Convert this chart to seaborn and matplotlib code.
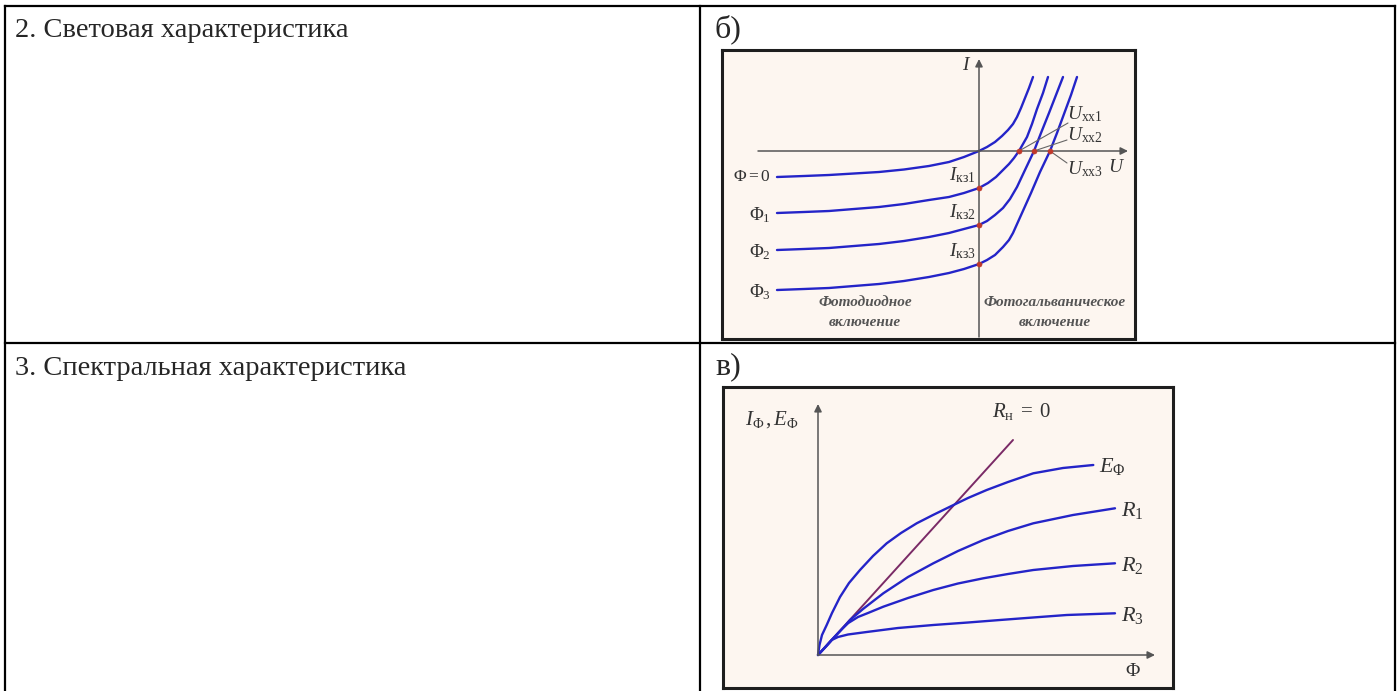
import matplotlib
matplotlib.use("Agg")
import matplotlib.pyplot as plt
from matplotlib.lines import Line2D
import seaborn as sns

# ---------------- data ----------------
# Diagram б: I-U curves for different light fluxes (arbitrary units)
phi0_u = [-202, -175, -150, -125, -100, -75, -50, -30, -15, 0, 8, 16, 23, 29, 34, 38, 42, 46, 50, 54]
phi0_i = [-26, -25, -24, -22.5, -21, -18.5, -15, -11, -6, 0, 4, 9, 15, 21, 27, 34, 43, 53, 63, 74]
phi1_u = [-202, -175, -150, -125, -100, -75, -50, -30, -15, 0, 9, 17, 24, 30, 35, 40, 44, 48, 53, 58, 64, 69]
phi1_i = [-62, -61, -60, -58, -56, -53, -49, -46, -42, -37, -32, -26, -19, -13, -7, 0, 7, 14, 27, 42, 58, 74]
phi2_u = [-202, -175, -150, -125, -100, -75, -50, -30, -15, 0, 8, 16, 24, 31, 38, 46, 55, 62, 70, 77, 84]
phi2_i = [-99, -98, -97, -95, -93, -90, -86, -82, -78, -74, -70, -64, -57, -48, -36, -19, 0, 18, 38, 56, 74]
phi3_u = [-202, -175, -150, -125, -100, -75, -50, -30, -15, 0, 8, 16, 24, 30, 34, 43, 52, 61, 71, 78, 85, 92, 98]
phi3_i = [-139, -138, -137, -135, -133, -130, -126, -122, -118, -113, -109, -104, -96, -89, -82, -62, -42, -21, 0, 18, 37, 56, 74]
curve_labels_b = [r"$\Phi = 0$", r"$\Phi_1$", r"$\Phi_2$", r"$\Phi_3$"]
isc_values = [-37, -74, -113]          # short-circuit currents
isc_labels = [r"$I_{\mathrm{кз1}}$", r"$I_{\mathrm{кз2}}$", r"$I_{\mathrm{кз3}}$"]
uoc_values = [40, 55, 71]              # open-circuit voltages
uoc_labels = [r"$U_{\mathrm{xx1}}$", r"$U_{\mathrm{xx2}}$", r"$U_{\mathrm{xx3}}$"]

# Diagram в: light characteristics
rn0_f = [0, 195]
rn0_i = [0, 215]
ef_f = [0, 1.5, 4, 8.7, 14, 22, 31, 42, 55, 68.7, 83, 98.7, 115, 132, 150, 168.7, 190, 215.3, 245, 275.3]
ef_i = [0, 10, 20, 30, 42, 58, 72, 85, 99, 111.7, 122, 131.7, 140, 148.3, 157, 165, 173, 181.7, 187, 190]
r1_f = [0, 8, 15.3, 24, 32, 45, 65.3, 90, 115.3, 140, 165.3, 190, 215.3, 255, 297]
r1_i = [0, 8.5, 16.7, 26, 35, 46, 61.7, 78, 91.7, 104, 115, 124, 131.7, 140, 146.7]
r2_f = [0, 15, 24, 30.3, 40, 50, 65.3, 90, 115.3, 140, 165.3, 190, 215.3, 255, 297]
r2_i = [0, 16.5, 26, 32, 38, 42, 48.3, 57, 65, 71.5, 76.7, 81, 85, 89, 91.7]
r3_f = [0, 7, 13.7, 20, 30, 48.7, 80, 115.3, 150, 182, 215, 248.7, 297]
r3_i = [0, 7.5, 15, 18, 20.5, 23, 27, 30, 32.5, 35, 37.5, 40, 41.7]
curve_labels_c = [r"$E_{\Phi}$", r"$R_1$", r"$R_2$", r"$R_3$"]

row_titles = ["2. Световая характеристика", "3. Спектральная характеристика"]
panel_letters = ["б)", "в)"]

# ---------------- style ----------------
sns.set_theme(style="white")
plt.rcParams["font.family"] = ["Liberation Serif", "DejaVu Serif"]
plt.rcParams["mathtext.fontset"] = "custom"
plt.rcParams["mathtext.rm"] = "Liberation Serif"
plt.rcParams["mathtext.it"] = "Liberation Serif:italic"
plt.rcParams["mathtext.bf"] = "Liberation Serif:bold"

W, H = 1400, 691
fig = plt.figure(figsize=(W / 100, H / 100), dpi=100)
fig.patch.set_facecolor("white")

def fx(x):
    return x / W

def fy(y):
    return 1 - y / H

def fline(x0, y0, x1, y1, lw=1.6):
    fig.add_artist(Line2D([fx(x0), fx(x1)], [fy(y0), fy(y1)],
                          transform=fig.transFigure, color="black", lw=lw,
                          solid_capstyle="projecting"))

# table grid
fline(5, 6, 1395, 6)
fline(5, 6, 5, 691)
fline(1395, 6, 1395, 691)
fline(700, 6, 700, 691)
fline(5, 343, 1395, 343)

# text cells
fig.text(fx(15), fy(37), row_titles[0], fontsize=20.5, ha="left", va="baseline")
fig.text(fx(15), fy(375), row_titles[1], fontsize=20.5, ha="left", va="baseline")
fig.text(fx(715), fy(37), panel_letters[0], fontsize=23, ha="left", va="baseline")
fig.text(fx(715), fy(374), panel_letters[1], fontsize=23, ha="left", va="baseline")

BG = "#fdf6f0"
BLUE = "#2424c8"
PURPLE = "#7a2a66"
AX = "#555555"
TXT = "#333333"
RED = "#c0392b"

def make_axes(x0, y0, x1, y1, ox, oy):
    ax = fig.add_axes([fx(x0), fy(y1), (x1 - x0) / W, (y1 - y0) / H])
    ax.set_facecolor(BG)
    ax.set_xlim(x0 - ox, x1 - ox)
    ax.set_ylim(oy - y1, oy - y0)
    ax.set_xticks([])
    ax.set_yticks([])
    for s in ax.spines.values():
        s.set_color("#1e1e1e")
        s.set_linewidth(2.2)
        s.set_visible(True)
    return ax

def arrow(ax, x0, y0, x1, y1):
    ax.annotate("", xy=(x1, y1), xytext=(x0, y0),
                arrowprops=dict(arrowstyle="-|>", color=AX, lw=1.1,
                                mutation_scale=11, shrinkA=0, shrinkB=0))

def curve(ax, x, y, color=BLUE, lw=1.7):
    sns.lineplot(x=x, y=y, ax=ax, sort=False, estimator=None, color=color,
                 lw=lw, legend=False, solid_joinstyle="round",
                 solid_capstyle="round")

# ---------------- diagram б ----------------
axb = make_axes(722, 50, 1135, 339, 979, 151)
arrow(axb, -221, 0, 149, 0)
arrow(axb, 0, -186, 0, 92)
for u, i in [(phi0_u, phi0_i), (phi1_u, phi1_i), (phi2_u, phi2_i), (phi3_u, phi3_i)]:
    curve(axb, u, i)
axb.set_xlabel("")
axb.set_ylabel("")

start_i = [phi0_i[0], phi1_i[0], phi2_i[0], phi3_i[0]]
for k, (lab, yv) in enumerate(zip(curve_labels_b, start_i)):
    xpos = -227 if k == 0 else -219
    axb.text(xpos, yv - (0 if k == 0 else 2), lab, fontsize=12.5 if k == 0 else 13.5,
             ha="center", va="center", color=TXT)

for lab, yv in zip(isc_labels, isc_values):
    axb.text(-3, yv + 13, lab, fontsize=14, ha="right", va="center", color=TXT)
sns.scatterplot(x=[0, 0, 0], y=isc_values, ax=axb, color=RED, s=14,
                edgecolor=RED, zorder=5, legend=False)
sns.scatterplot(x=uoc_values, y=[0, 0, 0], ax=axb, color=RED, s=14,
                edgecolor=RED, zorder=5, legend=False)

leader_ends = [(89, 28), (88, 11), (88, -12)]
label_y = [37, 16, -18]
for u, (ex, ey), lab, ly in zip(uoc_values, leader_ends, uoc_labels, label_y):
    axb.plot([u, ex], [0, ey], color="#666666", lw=0.8)
    axb.text(88, ly, lab, fontsize=14, ha="left", va="center", color=TXT)

axb.text(-12, 86, r"$I$", fontsize=14, ha="center", va="center", color=TXT)
axb.text(138, -17, r"$U$", fontsize=14, ha="center", va="center", color=TXT)
for xc, top in [(-114, "Фотодиодное"), (76, "Фотогальваническое")]:
    axb.text(xc, -152, top, fontsize=11, style="italic", weight="semibold",
             ha="center", va="center", color="#555555")
    axb.text(xc, -171, "включение", fontsize=11, style="italic", weight="semibold",
             ha="center", va="center", color="#555555")

# ---------------- diagram в ----------------
axc = make_axes(723, 387, 1173, 688, 818, 655)
arrow(axc, 0, 0, 337, 0)
arrow(axc, 0, 0, 0, 251)
curve(axc, rn0_f, rn0_i, color=PURPLE, lw=1.4)
for f, i in [(ef_f, ef_i), (r1_f, r1_i), (r2_f, r2_i), (r3_f, r3_i)]:
    curve(axc, f, i)
axc.set_xlabel("")
axc.set_ylabel("")

axc.text(203, 243, r"$R_{\mathrm{н}}\;=\;0$", fontsize=15, ha="center",
         va="center", color=TXT)
axc.text(-46, 235, r"$I_{\Phi}\,,E_{\Phi}$", fontsize=15, ha="center",
         va="center", color=TXT)
end_pts = [(ef_f[-1], ef_i[-1]), (r1_f[-1], r1_i[-1]),
           (r2_f[-1], r2_i[-1]), (r3_f[-1], r3_i[-1])]
for lab, (xe, ye) in zip(curve_labels_c, end_pts):
    axc.text(xe + 6, ye - 2, lab, fontsize=16, ha="left", va="center", color=TXT)
axc.text(315, -17, r"$\Phi$", fontsize=14, ha="center", va="center", color=TXT)

fig.savefig("out.png", dpi=100, facecolor="white")
